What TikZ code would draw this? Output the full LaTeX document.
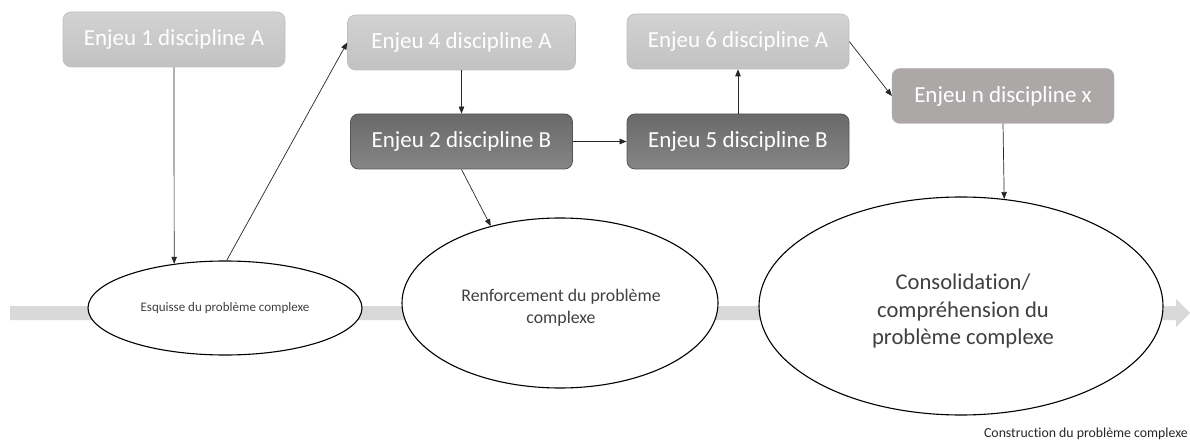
\documentclass[tikz,border=0pt]{standalone}
\usepackage{fontspec}
\setmainfont{Carlito}[Ligatures=NoCommon]
\usetikzlibrary{arrows.meta,shapes.geometric,calc}
\definecolor{lighttop}{HTML}{D2D2D2}
\definecolor{lightbot}{HTML}{C2C2C2}
\definecolor{lightbd}{HTML}{BDBDBD}
\definecolor{darktop}{HTML}{6A6A6A}
\definecolor{darkbot}{HTML}{858585}
\definecolor{darkbd}{HTML}{555555}
\definecolor{midfill}{HTML}{ACA8A8}
\definecolor{bandcol}{HTML}{D9D9D9}
\definecolor{elltext}{HTML}{404040}
\tikzset{
  boxbase/.style={rectangle, rounded corners=8pt, minimum width=222pt, minimum height=55pt,
    inner sep=0pt, text=white, font=\fontsize{23}{28}\selectfont},
  lightbox/.style={boxbase, top color=lighttop, bottom color=lightbot, draw=lightbd, line width=0.6pt},
  darkbox/.style={boxbase, top color=darktop, bottom color=darkbot, draw=darkbd, line width=0.8pt},
  midbox/.style={boxbase, fill=midfill, draw=midfill},
  ell/.style={ellipse, draw=black, fill=white, line width=1.1pt, inner sep=0pt, align=center, text=elltext},
  elltxt/.style={inner sep=0pt, align=center, text=elltext},
  conn/.style={draw=black!85, line width=0.7pt, -{Triangle[length=7pt,width=5.5pt]}},
}
\begin{document}
\begin{tikzpicture}[x=1pt,y=-1pt]
\useasboundingbox (0,0) rectangle (1190,443);
% background band arrow
\fill[bandcol] (10,306) -- (1176,306) -- (1176,299) -- (1190,313) -- (1176,327) -- (1176,320) -- (10,320) -- cycle;
% ellipses
\node[ell, minimum width=274pt, minimum height=94pt, font=\fontsize{13}{16}\selectfont] (e1) at (225,308) {Esquisse du problème complexe};
\node[ell, minimum width=316pt, minimum height=170pt] (e2) at (560,303) {};
\node[elltxt, font=\fontsize{17.8}{21.5}\selectfont] (t2) at (561,308) {Renforcement du problème\\complexe};
\node[ell, minimum width=404pt, minimum height=218pt] (e3) at (961,306) {};
\node[elltxt, font=\fontsize{22.6}{27.5}\selectfont] (t3) at (963,311) {Consolidation/\\compréhension du\\problème complexe};
% boxes
\node[lightbox] (b1) at (174,39.5) {Enjeu 1 discipline A};
\node[lightbox, minimum width=228pt] (b4) at (461.5,42.5) {Enjeu 4 discipline A};
\node[darkbox] (b2) at (461.5,141.5) {Enjeu 2 discipline B};
\node[darkbox] (b5) at (738,141.5) {Enjeu 5 discipline B};
\node[lightbox] (b6) at (738,41.5) {Enjeu 6 discipline A};
\node[midbox] (bn) at (1003,96) {Enjeu n discipline x};
% label
\node[anchor=east, font=\fontsize{13.8}{16}\selectfont, text=black!85, inner sep=0pt] (lbl) at (1188,434) {Construction du problème complexe};
% connectors
\draw[conn] (b1.south) -- (e1.139.5);
\draw[conn] (e1.88) -- (b4.west);
\draw[conn] (b4.south) -- (b2.north);
\draw[conn] (b2.south) -- (e2.132);
\draw[conn] (b2.east) -- (b5.west);
\draw[conn] (b5.north) -- (b6.south);
\draw[conn] (b6.east) -- (bn.west);
\draw[conn] (bn.south) -- (e3.68.5);
\end{tikzpicture}
\end{document}
